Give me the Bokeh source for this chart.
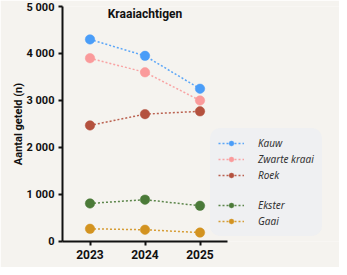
from bokeh.plotting import figure
from bokeh.models import Range1d, FixedTicker, Legend, LegendItem, Label
from bokeh.embed import file_html
from bokeh.resources import INLINE

years = [2023, 2024, 2025]
series_names = ["Kauw", "Zwarte kraai", "Roek", "Ekster", "Gaai"]
kauw = [4300, 3950, 3250]
zwarte_kraai = [3900, 3600, 3000]
roek = [2470, 2710, 2770]
ekster = [810, 890, 760]
gaai = [270, 250, 190]
colors = ["#4a9df8", "#fa9a9b", "#b4513e", "#4b7a38", "#d39320"]
y_ticks = [0, 1000, 2000, 3000, 4000, 5000]
y_tick_labels = ["0", "1 000", "2 000", "3 000", "4 000", "5 000"]
title_text = "Kraaiachtigen"
y_label = "Aantal geteld (n)"

BG = "#f5f3ef"
W, H = 339, 267
ML, MT, MB, MR = 62, 6, 26, 0
frame_w = W - ML - MR
px_per_year = 55.0

p = figure(width=W, height=H, output_backend="svg", toolbar_location=None,
           x_range=Range1d(2022.5, 2022.5 + frame_w / px_per_year),
           y_range=Range1d(0, 5000),
           min_border_left=ML, min_border_top=MT, min_border_bottom=MB, min_border_right=MR)
p.background_fill_color = BG
p.border_fill_color = BG
p.outline_line_color = None
p.grid.grid_line_color = None

font = "Roboto"
p.xaxis.bounds = (2022.5, 2025.5)
p.xaxis.ticker = FixedTicker(ticks=years)
p.xaxis.major_label_overrides = {y: str(y) for y in years}
p.yaxis.ticker = FixedTicker(ticks=y_ticks)
p.yaxis.major_label_overrides = {t: l for t, l in zip(y_ticks, y_tick_labels)}
for ax in (p.xaxis, p.yaxis):
    ax.axis_line_width = 2
    ax.axis_line_color = "#111111"
    ax.major_tick_line_width = 2
    ax.major_tick_line_color = "#111111"
    ax.major_tick_out = 4
    ax.major_tick_in = 0
    ax.minor_tick_line_color = None
    ax.major_label_text_font = font
    ax.major_label_text_font_style = "bold"
    ax.major_label_text_color = "#111111"
    ax.major_label_standoff = 4
p.xaxis.major_label_text_font_size = "12px"
p.yaxis.major_label_text_font_size = "11px"
p.yaxis.axis_label = y_label
p.yaxis.axis_label_text_font = font
p.yaxis.axis_label_text_font_style = "bold"
p.yaxis.axis_label_text_font_size = "11px"
p.yaxis.axis_label_text_color = "#111111"
p.yaxis.axis_label_standoff = -1

all_series = [kauw, zwarte_kraai, roek, ekster, gaai]
items = []
for i, (name, vals, c) in enumerate(zip(series_names, all_series, colors)):
    ln = p.line(years, vals, line_color=c, line_width=1.5, line_dash="2 2", line_alpha=0.9)
    ci = p.scatter(years, vals, size=9.5, fill_color=c, line_color=c, line_width=0.5)
    items.append(LegendItem(label=name, renderers=[ln, ci]))
    if i == 2:
        blank = p.line([], [], line_alpha=0)
        items.append(LegendItem(label=" ", renderers=[blank]))

legend = Legend(items=items, location=(148, 5), padding=8, spacing=2,
                label_height=12, glyph_height=12, glyph_width=26, label_standoff=14,
                label_text_font="Noto Sans", label_text_font_style="italic",
                label_text_font_size="10px", label_text_color="#333333",
                background_fill_color="#eeeff1", background_fill_alpha=0.95,
                border_line_alpha=0, margin=0)
if "border_radius" in Legend.properties():
    legend.border_radius = 10
p.add_layout(legend, "center")

p.add_layout(Label(x=2024, y=5000, y_offset=-7, text=title_text, text_align="center",
                   text_baseline="middle", text_font=font, text_font_style="bold",
                   text_font_size="12px", text_color="#111111"))

open("out.html", "w").write(file_html(p, INLINE))
